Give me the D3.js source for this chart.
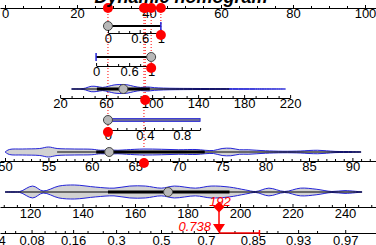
<!DOCTYPE html>
<html>
<head>
<meta charset="utf-8">
<script src="https://cdn.jsdelivr.net/npm/d3@7"></script>
<style>
    body { margin: 0; background: #fff; }
    svg { display: block; font-family: "Liberation Sans", Arial, sans-serif; }
</style>
</head>
<body>
<div id="plot"></div>
<script>
const title = "Dynamic nomogram";

// points axis
const pointTicks = [0, 20, 40, 60, 80, 100];
const pointMinor = [5, 10, 15, 25, 30, 35, 45, 50, 55, 65, 70, 75, 85, 90, 95];

// predictor rows: value range and the points at both ends of it
const varDomains = [[0, 1], [0, 1], [20, 220], [0, 1], [50, 90]];
const varPointEnds = [[28.6, 43.3], [25.3, 40.6], [15.3, 79.2], [28.6, 54.2], [0, 96.5]];
const varTicks = [[0, 0.6, 1], [0, 0.6, 1], [20, 60, 100, 140, 180, 220], [0, 0.4, 0.8], [50, 55, 60, 65, 70, 75, 80, 85, 90]];
const varMinor = [
    [0.2, 0.4, 0.8],
    [0.2, 0.4, 0.8],
    [30, 40, 50, 70, 80, 90, 110, 120, 130, 150, 160, 170, 190, 200, 210],
    [0.1, 0.2, 0.3, 0.5, 0.6, 0.7, 0.9, 1],
    [51, 52, 53, 54, 56, 57, 58, 59, 61, 62, 63, 64, 66, 67, 68, 69, 71, 72, 73, 74, 76, 77, 78, 79, 81, 82, 83, 84, 86, 87, 88, 89, 91, 92]
];
const selected = [1, 1, 94, 0, 66];

// binary rows: median and whisker ends
const binMedian = [0, 1, null, 0, null];

// continuous rows: [whisker low, q1, median, q3, whisker high]
const row3Box = [30, 52, 75, 98, 167];
const row3Vals = [30, 38, 42, 47, 52, 57, 62, 67, 72, 78, 84, 90, 96, 102, 110, 120, 135, 150, 170, 190, 216];
const row3Dens = [0, 0.05, 0.2, 0.6, 0.55, 0.35, 0.6, 0.9, 1, 0.95, 0.6, 0.35, 0.45, 0.3, 0.2, 0.15, 0.12, 0.1, 0.08, 0.06, 0];

const row5Box = [56, 60.5, 62, 73, 91];
const row5Vals = [50, 50.5, 52, 54, 55, 56, 58, 60, 61, 62, 63, 64, 66, 68, 70, 72, 73, 74, 75, 76, 77, 78, 79, 80, 82, 84, 85, 86, 87, 88, 90, 91];
const row5Dens = [0, 0.5, 0.6, 0.7, 1, 0.7, 0.6, 0.55, 0.35, 0.4, 0.35, 0.45, 0.6, 0.55, 0.45, 0.5, 0.35, 0.3, 0.7, 0.75, 0.45, 0.45, 0.35, 0.25, 0.15, 0.2, 0.3, 0.35, 0.25, 0.12, 0.08, 0];

// total points
const totalTicks = [120, 140, 160, 180, 200, 220, 240];
const totalMinor = [110, 115, 125, 130, 135, 145, 150, 155, 165, 170, 175, 185, 190, 195, 205, 210, 215, 225, 230, 235, 245, 250];
const totalBox = [110.5, 149.7, 172.6, 196, 246.5];
const totalVals = [110.5, 116, 121, 125, 131, 137, 145, 152, 158, 164, 170, 175, 183, 189, 196, 202, 206, 211, 217, 223, 229, 235, 240, 246.5];
const totalDens = [0, 0.05, 0.85, 0.15, 0.85, 1, 0.7, 0.55, 0.85, 0.85, 0.55, 0.85, 0.55, 0.85, 0.7, 0.3, 0.07, 0.55, 0.07, 0.55, 0.4, 0.07, 0.2, 0];
const totalScore = 192;

// probability
const probTicks = [0.04, 0.08, 0.16, 0.3, 0.5, 0.7, 0.85, 0.93, 0.97];
const probMinor = [0.05, 0.06, 0.1, 0.12, 0.14, 0.2, 0.25, 0.35, 0.4, 0.45, 0.55, 0.6, 0.65, 0.75, 0.8, 0.88, 0.9, 0.95];
const predProb = 0.738;
const predUpper = 0.865;

const W = 376, H = 245;
const RED = "#ff0000", BLUE = "#2424d8", GRAY = "#b8b8b8";
const shapeY = [26, 57, 89, 120, 152];
const axisY = [33, 66, 98, 130, 161];
const totalShapeY = 192, totalAxisY = 207, probAxisY = 233, pointsAxisY = 8;

const logit = p => Math.log(p / (1 - p));

const svg = d3.select("#plot").append("svg")
    .attr("width", W)
    .attr("height", H);

svg.append("rect").attr("width", W).attr("height", H).attr("fill", "#fff");

const xPts = d3.scaleLinear().domain([0, 100]).range([5, 365]);
const varScales = varDomains.map((d, i) =>
    d3.scaleLinear().domain(d).range(varPointEnds[i].map(xPts)));
const xTotal = d3.scaleLinear().domain([120, 240]).range([30, 345]);
const xProb = d3.scaleLinear().domain([-3, 4]).range([2, 373]);

const layer = {
    guides: svg.append("g"),
    rows: svg.append("g"),
    axes: svg.append("g"),
    marks: svg.append("g")
};

function drawAxis(scale, y, ticks, minor, fmt, pad, fullWidth) {
    const s = fullWidth ? scale.copy().domain([scale.invert(0), scale.invert(W)]).range([0, W]) : scale;
    const gMinor = layer.axes.append("g").attr("transform", "translate(0," + y + ")");
    gMinor.call(d3.axisBottom(s).tickValues(minor).tickSizeInner(-2).tickSizeOuter(0).tickFormat(""));
    gMinor.select(".domain").remove();

    const g = layer.axes.append("g").attr("transform", "translate(0," + y + ")");
    g.call(d3.axisBottom(s)
        .tickValues(ticks)
        .tickSizeInner(-3)
        .tickSizeOuter(0)
        .tickPadding(pad)
        .tickFormat(fmt));
    g.attr("font-size", 13).attr("font-family", "Liberation Sans, Arial, sans-serif");
    g.selectAll("text").attr("fill", "#000");
    return g;
}

function drawViolin(scale, cy, vals, dens, maxHalf) {
    const h = d3.scaleLinear().domain([0, 1]).range([0, maxHalf]);
    const area = d3.area()
        .x(d => scale(d[0]))
        .y0(d => cy - h(d[1]))
        .y1(d => cy + h(d[1]))
        .curve(d3.curveCatmullRom);
    layer.rows.append("path")
        .datum(vals.map((v, i) => [v, dens[i]]))
        .attr("d", area)
        .attr("fill", "#d2d2d2")
        .attr("stroke", BLUE)
        .attr("stroke-width", 1);
}

function drawBox(scale, cy, box) {
    layer.rows.append("line")
        .attr("x1", scale(box[0])).attr("x2", scale(box[4]))
        .attr("y1", cy).attr("y2", cy)
        .attr("stroke", "#000").attr("stroke-width", 1);
    layer.rows.append("line")
        .attr("x1", scale(box[1])).attr("x2", scale(box[3]))
        .attr("y1", cy).attr("y2", cy)
        .attr("stroke", "#000").attr("stroke-width", 3);
    layer.rows.append("circle")
        .attr("cx", scale(box[2])).attr("cy", cy).attr("r", 4.5)
        .attr("fill", GRAY).attr("stroke", "#444").attr("stroke-width", 1);
}

function drawBinary(scale, cy, median, i) {
    const [d0, d1] = scale.domain();
    const other = median === d0 ? d1 : d0;
    if (i === 3) {
        layer.rows.append("rect")
            .attr("x", scale(d0)).attr("y", cy - 1.5)
            .attr("width", scale(d1) - scale(d0)).attr("height", 3)
            .attr("fill", "#6a6a9a").attr("stroke", BLUE).attr("stroke-width", 0.8);
    } else {
        layer.rows.append("line")
            .attr("x1", scale(d0)).attr("x2", scale(d1))
            .attr("y1", cy).attr("y2", cy)
            .attr("stroke", "#000").attr("stroke-width", 2);
        layer.rows.append("line")
            .attr("x1", scale(other)).attr("x2", scale(other))
            .attr("y1", cy - 4).attr("y2", cy + 4)
            .attr("stroke", BLUE).attr("stroke-width", 1.5);
    }
    layer.rows.append("circle")
        .attr("cx", scale(median)).attr("cy", cy).attr("r", 4.5)
        .attr("fill", GRAY).attr("stroke", "#444").attr("stroke-width", 1);
}

// title (mostly clipped at the top edge)
svg.append("text")
    .attr("x", 181)
    .attr("y", 2.5)
    .attr("text-anchor", "middle")
    .attr("font-size", 18)
    .attr("font-weight", "bold")
    .attr("font-style", "italic")
    .text(title);

// points axis
drawAxis(xPts, pointsAxisY, pointTicks, pointMinor, d3.format("d"), 1, true);

// predictor rows
varScales.forEach((s, i) => {
    if (binMedian[i] !== null) drawBinary(s, shapeY[i], binMedian[i], i);
    drawAxis(s, axisY[i], varTicks[i], varMinor[i], d => d3.format("~g")(d), i === 3 ? 0.5 : 1, i === 4);
});
drawViolin(varScales[2], shapeY[2], row3Vals, row3Dens, 4.5);
drawBox(varScales[2], shapeY[2], row3Box);
drawViolin(varScales[4], shapeY[4], row5Vals, row5Dens, 5);
drawBox(varScales[4], shapeY[4], row5Box);

// total points
drawViolin(xTotal, totalShapeY, totalVals, totalDens, 7);
drawBox(xTotal, totalShapeY, totalBox);
drawAxis(xTotal, totalAxisY, totalTicks, totalMinor, d3.format("d"), 2, true);

// probability axis
drawAxis(xProb, probAxisY, probTicks.map(logit), probMinor.map(logit),
    (d, i) => String(probTicks[i]), 3, true);

// selected values: dotted guides and red dots
selected.forEach((v, i) => {
    const x = varScales[i](v);
    layer.guides.append("line")
        .attr("x1", x).attr("x2", x)
        .attr("y1", pointsAxisY).attr("y2", axisY[i] + 2)
        .attr("stroke", RED).attr("stroke-width", 1)
        .attr("stroke-dasharray", "1,2");
    layer.marks.append("circle")
        .attr("cx", x).attr("cy", pointsAxisY).attr("r", 5).attr("fill", RED);
    layer.marks.append("circle")
        .attr("cx", x).attr("cy", axisY[i] + 2).attr("r", 5).attr("fill", RED);
});

// total score marker and predicted probability
const xT = xTotal(totalScore);
const xUp = xProb(logit(predUpper));

layer.marks.append("text")
    .attr("x", xT + 1).attr("y", totalAxisY - 1)
    .attr("text-anchor", "middle")
    .attr("font-size", 13).attr("font-style", "italic")
    .attr("fill", RED)
    .text(totalScore);

layer.marks.append("line")
    .attr("x1", xT).attr("x2", xT)
    .attr("y1", totalAxisY).attr("y2", probAxisY - 8)
    .attr("stroke", RED).attr("stroke-width", 1.5);

layer.marks.append("path")
    .attr("d", d3.symbol(d3.symbolSquare, 60)())
    .attr("transform", "translate(" + xT + "," + totalAxisY + ") rotate(45)")
    .attr("fill", RED);

layer.marks.append("path")
    .attr("d", d3.line()([[xT - 6, probAxisY - 9], [xT + 6, probAxisY - 9], [xT, probAxisY]]) + "Z")
    .attr("fill", RED);

layer.marks.append("line")
    .attr("x1", xT).attr("x2", xUp)
    .attr("y1", probAxisY).attr("y2", probAxisY)
    .attr("stroke", RED).attr("stroke-width", 1.5);

layer.marks.append("line")
    .attr("x1", xUp).attr("x2", xUp)
    .attr("y1", probAxisY - 3).attr("y2", probAxisY + 3)
    .attr("stroke", RED).attr("stroke-width", 1.5);

layer.marks.append("text")
    .attr("x", xT - 8).attr("y", probAxisY - 2)
    .attr("text-anchor", "end")
    .attr("font-size", 13).attr("font-style", "italic")
    .attr("fill", RED)
    .text(predProb);
</script>
</body>
</html>
